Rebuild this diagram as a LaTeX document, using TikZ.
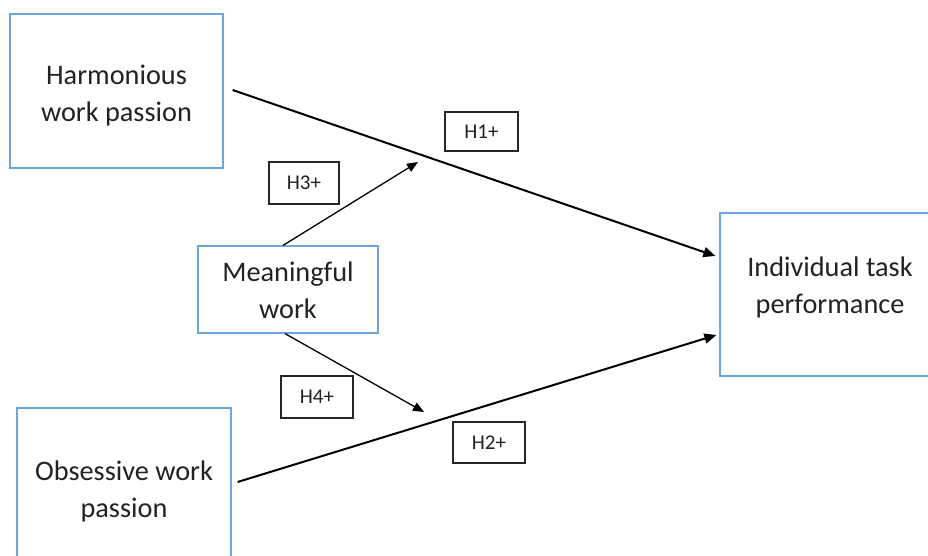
\documentclass[tikz,border=0pt]{standalone}
\usepackage{fontspec}
\setmainfont{Carlito}
\usetikzlibrary{arrows.meta,calc}
\definecolor{boxblue}{RGB}{110,165,220}
\definecolor{txt}{RGB}{34,34,34}
\begin{document}
\begin{tikzpicture}[x=1pt,y=1pt,
  varbox/.style={draw=boxblue,line width=1.2pt,fill=white,inner sep=0pt},
  vartext/.style={align=center,text=txt,font=\fontsize{28.3}{37}\selectfont,inner sep=0pt},
  hypbox/.style={draw=black!85,line width=1.3pt,fill=white,text=txt,
    font=\fontsize{21}{24}\selectfont,inner sep=0pt},
  mainarrow/.style={line width=2pt,-{Triangle[length=12pt,width=10pt]}},
  medarrow/.style={line width=1.3pt,-{Triangle[length=11pt,width=9pt]}}]
\clip (0,0) rectangle (928,555);
\fill[white] (0,0) rectangle (928,555);
% variable boxes
\node[varbox,minimum width=213pt,minimum height=154pt,
  label={[vartext,yshift=-4.5pt]center:Harmonious\\work passion}] (hwp) at (116.5,464) {};
\node[varbox,minimum width=214pt,minimum height=160pt,
  label={[vartext,yshift=-3pt]center:Obsessive work\\passion}] (owp) at (124,67) {};
\node[varbox,minimum width=180pt,minimum height=87pt,
  label={[vartext,yshift=-1pt]center:Meaningful\\work}] (mw) at (288,265.5) {};
\node[varbox,minimum width=220pt,minimum height=163pt,
  label={[vartext,yshift=7pt]center:Individual task\\performance}] (itp) at (830,260.5) {};
% hypothesis labels
\node[hypbox,minimum width=73pt,minimum height=39pt] (h1) at (481.5,423.5) {H1+};
\node[hypbox,minimum width=72pt,minimum height=41pt] (h2) at (489,112.5) {H2+};
\node[hypbox,minimum width=70pt,minimum height=42pt] (h3) at (304,372) {H3+};
\node[hypbox,minimum width=72pt,minimum height=42pt] (h4) at (317,158) {H4+};
% connector end points
\coordinate (hwpout) at ($(hwp.east)+(9,1)$);
\coordinate (itpin1) at ($(itp.west)+(-4,38.5)$);
\coordinate (owpout) at ($(owp.east)+(6,6)$);
\coordinate (itpin2) at ($(itp.west)+(-3,-40.5)$);
\coordinate (mwtop) at ($(mw.north)+(-5,0)$);
\coordinate (mwbot) at ($(mw.south)+(-3,0)$);
\coordinate (h3end) at (418,393);
\coordinate (h4end) at (424,143);
% connectors
\draw[mainarrow] (hwpout) -- (itpin1);
\draw[mainarrow] (owpout) -- (itpin2);
\draw[medarrow] (mwtop) -- (h3end);
\draw[medarrow] (mwbot) -- (h4end);
\end{tikzpicture}
\end{document}
